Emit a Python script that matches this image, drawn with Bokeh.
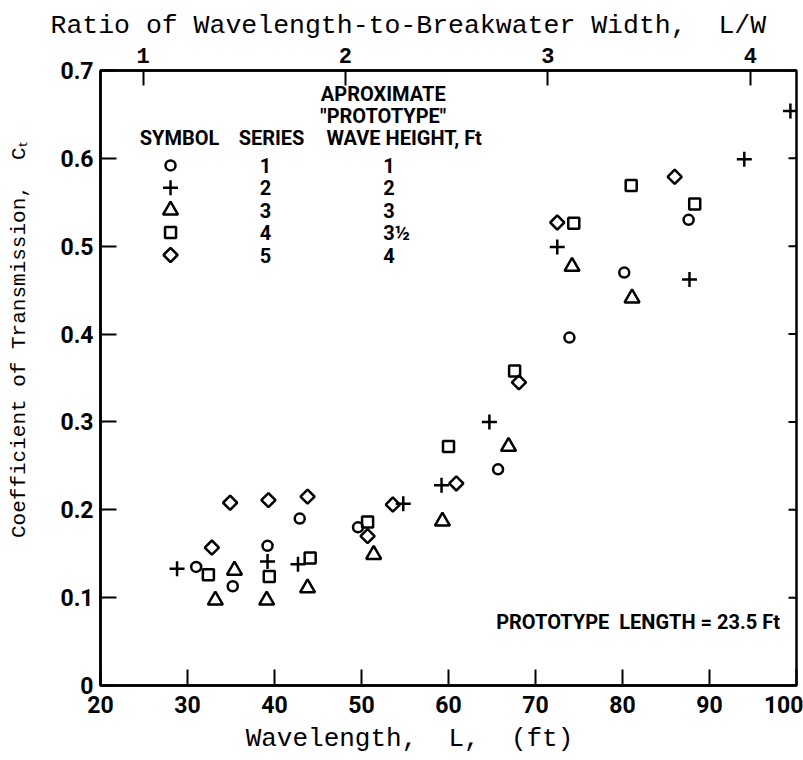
import numpy as np
from bokeh.plotting import figure
from bokeh.models import Range1d, LinearAxis, FixedTicker, Label, Title
from bokeh.core.properties import value
from bokeh.embed import file_html
from bokeh.resources import INLINE

# ---------------- data ----------------
# Series 1 (circles)
s1_x = [31.0, 35.2, 39.2, 42.9, 49.6, 65.7, 73.9, 80.2, 87.6]
s1_y = [0.135, 0.113, 0.159, 0.190, 0.180, 0.246, 0.396, 0.470, 0.530]
# Series 2 (plus)
s2_x = [28.8, 39.2, 42.7, 54.8, 59.2, 64.7, 72.5, 87.7, 94.0, 99.3]
s2_y = [0.133, 0.141, 0.138, 0.207, 0.228, 0.300, 0.499, 0.462, 0.599, 0.654]
# Series 3 (triangles)
s3_x = [33.2, 35.4, 39.1, 43.8, 51.4, 59.3, 66.9, 74.2, 81.1]
s3_y = [0.097, 0.131, 0.097, 0.111, 0.149, 0.187, 0.272, 0.477, 0.441]
# Series 4 (squares)
s4_x = [32.4, 39.4, 44.1, 50.7, 60.0, 67.6, 74.4, 81.0, 88.3]
s4_y = [0.126, 0.124, 0.145, 0.186, 0.272, 0.358, 0.526, 0.569, 0.548]
# Series 5 (diamonds)
s5_x = [32.8, 34.9, 39.3, 43.8, 50.7, 53.6, 60.9, 68.1, 72.5, 86.0]
s5_y = [0.157, 0.208, 0.211, 0.215, 0.170, 0.206, 0.230, 0.345, 0.527, 0.579]

series_names = ["1", "2", "3", "4", "5"]
wave_heights = ["1", "2", "3", "3\u00bd", "4"]

x_ticks = [20, 30, 40, 50, 60, 70, 80, 90, 100]
y_ticks = [0, 0.1, 0.2, 0.3, 0.4, 0.5, 0.6, 0.7]
lw_ticks = [1, 2, 3, 4]

NB = "\u00a0"

# ---------------- figure ----------------
W, H = 803, 760
p = figure(width=W, height=H, output_backend="svg", toolbar_location=None,
           x_range=Range1d(20, 100), y_range=Range1d(0, 0.7),
           min_border_left=100, min_border_right=7, min_border_top=70,
           min_border_bottom=75)
p.grid.visible = False
p.outline_line_color = "black"
p.outline_line_width = 2.5
p.background_fill_color = "white"
p.border_fill_color = "white"

TICK_FONT = "Roboto"
MONO = "Liberation Mono"

xa = p.xaxis[0]
xa.ticker = FixedTicker(ticks=x_ticks)
ya = p.yaxis[0]
ya.ticker = FixedTicker(ticks=y_ticks)
ya.major_label_overrides = {0: "0"}

for ax in (xa, ya):
    ax.axis_line_width = 2.5
    ax.axis_line_color = "black"
    ax.major_tick_line_width = 2
    ax.major_tick_in = 16
    ax.major_tick_out = 0
    ax.minor_tick_line_color = None
    ax.major_label_text_font = TICK_FONT
    ax.major_label_text_font_style = "bold"
    ax.major_label_text_font_size = "23px"
    ax.major_label_text_color = "black"
    ax.axis_label_text_font = MONO
    ax.axis_label_text_font_style = "normal"
    ax.axis_label_text_color = "black"
xa.major_label_standoff = 10
ya.major_label_standoff = 7

# axis titles (padding with no-break spaces shifts them off-centre as in the original)
xa.axis_label = f"Wavelength,{NB}{NB}L,{NB}{NB}(ft)" + NB * 5
xa.axis_label_text_font_size = "26px"
xa.axis_label_standoff = 8
ya.axis_label = NB * 6 + f"Coefficient of Transmission,{NB}{NB}C\u209c"
ya.axis_label_text_font_size = "21px"
ya.axis_label_standoff = 26

# top axis: L/W ratio
p.extra_x_ranges = {"lw": Range1d(0.79, 4.228)}
top = LinearAxis(x_range_name="lw", ticker=FixedTicker(ticks=lw_ticks))
top.axis_line_width = 2.5
top.axis_line_color = "black"
top.major_tick_line_width = 2
top.major_tick_in = 15
top.major_tick_out = 0
top.minor_tick_line_color = None
top.major_label_text_font = MONO
top.major_label_text_font_style = "bold"
top.major_label_text_font_size = "22px"
top.major_label_text_color = "black"
top.major_label_standoff = 8
p.add_layout(top, "above")

p.add_layout(Title(text=f"Ratio of Wavelength-to-Breakwater Width,{NB}{NB}L/W",
                   align="left", vertical_align="middle", offset=-50, standoff=5,
                   text_font=MONO, text_font_size="26.5px", text_font_style="normal",
                   text_color="black"), "above")

# right-side inward ticks (no labels)
p.ray(x=[100] * len(y_ticks), y=y_ticks, length=8, length_units="screen",
      angle=np.pi, line_color="black", line_width=2)

# ---------------- markers ----------------
styles = [
    dict(marker="circle", size=10, angle=0.0),
    dict(marker="cross", size=15, angle=0.0),
    dict(marker="triangle", size=15, angle=0.0),
    dict(marker="square", size=11, angle=0.0),
    dict(marker="square", size=10, angle=np.pi / 4),
]
xs = [s1_x, s2_x, s3_x, s4_x, s5_x]
ys = [s1_y, s2_y, s3_y, s4_y, s5_y]
for sx, sy, st in zip(xs, ys, styles):
    p.scatter(sx, sy, marker=st["marker"], size=st["size"], angle=st["angle"],
              fill_color=None, line_color="black", line_width=2.5)

# ---------------- key table (inside the plot) ----------------
key_sym_x = 28.05
key_series_x = 38.97
key_height_x = 52.5
key_row0 = 0.592
key_pitch = 0.0255
rows_y = [key_row0 - i * key_pitch for i in range(len(series_names))]
for yy, st in zip(rows_y, styles):
    p.scatter([key_sym_x], [yy], marker=st["marker"], size=st["size"], angle=st["angle"],
              fill_color=None, line_color="black", line_width=2.5)
KEY_FONT = value("Roboto")
p.text(x=[key_series_x] * len(series_names), y=rows_y, text=series_names,
       text_font=KEY_FONT, text_font_style="bold", text_font_size="20px",
       text_align="center", text_baseline="middle", text_color="black")
p.text(x=[key_height_x] * len(wave_heights), y=rows_y, text=wave_heights,
       text_font=KEY_FONT, text_font_style="bold", text_font_size="20px",
       text_align="left", text_baseline="middle", text_color="black")

hdr_y = 0.6237
p.text(x=[29.08, 39.66], y=[hdr_y, hdr_y], text=["SYMBOL", "SERIES"],
       text_font=KEY_FONT, text_font_style="bold", text_font_size="20px",
       text_align="center", text_baseline="middle", text_color="black")
p.text(x=[45.98], y=[hdr_y], text=["WAVE HEIGHT, Ft"],
       text_font=KEY_FONT, text_font_style="bold", text_font_size="20px",
       text_align="left", text_baseline="middle", text_color="black")
p.text(x=[52.5, 52.5], y=[0.6738, 0.6480], text=["APROXIMATE", "\"PROTOTYPE\""],
       text_font=KEY_FONT, text_font_style="bold", text_font_size="20px",
       text_align="center", text_baseline="middle", text_color="black")

p.add_layout(Label(x=98.1, y=0.072, text=f"PROTOTYPE{NB}{NB}LENGTH = 23.5 Ft",
                   text_font="Roboto", text_font_style="bold", text_font_size="20px",
                   text_align="right", text_baseline="middle", text_color="black"))

open("out.html", "w").write(file_html(p, INLINE))
